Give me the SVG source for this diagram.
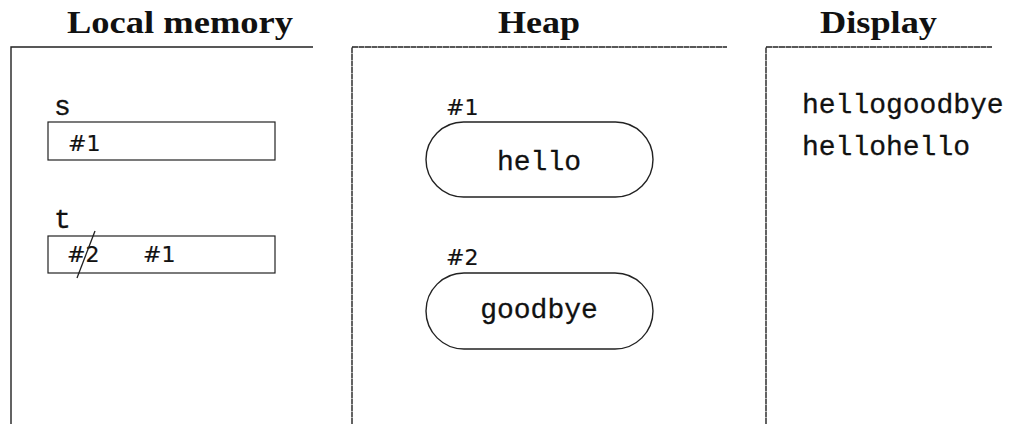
<svg xmlns="http://www.w3.org/2000/svg" width="1010" height="424" viewBox="0 0 1010 424">
  <style>
    .title { font-family: "Liberation Serif", serif; font-weight: bold; font-size: 31px; fill: #111; }
    .tt { font-family: "Liberation Mono", monospace; font-size: 28px; fill: #111; stroke: #111; stroke-width: 0.3; }
    .ref { font-family: "DejaVu Sans", sans-serif; font-size: 22px; fill: #111; stroke: #111; stroke-width: 0.2; }
    .frame { fill: none; stroke: #222; stroke-width: 1.4; }
    .dashed { stroke-dasharray: 6 0.5; }
    .cell { fill: #fff; stroke: #222; stroke-width: 1.2; }
    .obj { fill: #fff; stroke: #222; stroke-width: 1.4; }
  </style>

  <!-- column headings -->
  <g id="titles">
    <text class="title" x="67" y="33" textLength="226" lengthAdjust="spacingAndGlyphs">Local memory</text>
    <text class="title" x="498" y="33" textLength="82" lengthAdjust="spacingAndGlyphs">Heap</text>
    <text class="title" x="820" y="33" textLength="117" lengthAdjust="spacingAndGlyphs">Display</text>
  </g>

  <!-- column frames -->
  <g id="frames">
    <path class="frame" d="M11 424 V47 H313"/>
    <path class="frame dashed" d="M352 424 V47 H727"/>
    <path class="frame dashed" d="M766 424 V47 H992"/>
  </g>

  <!-- local variables -->
  <g id="var-s">
    <text class="tt" x="54" y="115">s</text>
    <rect class="cell" x="48" y="122" width="227" height="38"/>
    <text class="ref" x="68" y="151">#1</text>
  </g>
  <g id="var-t">
    <text class="tt" x="54" y="228">t</text>
    <rect class="cell" x="48" y="236" width="227" height="37"/>
    <text class="ref" x="67" y="262">#2</text>
    <line x1="95" y1="231" x2="77" y2="278" stroke="#222" stroke-width="1.3"/>
    <text class="ref" x="143" y="262">#1</text>
  </g>

  <!-- heap objects -->
  <g id="obj-1">
    <text class="ref" x="446" y="115">#1</text>
    <rect class="obj" x="426" y="122" width="227" height="75" rx="37.5" ry="37.5"/>
    <text class="tt" x="539" y="170" text-anchor="middle">hello</text>
  </g>
  <g id="obj-2">
    <text class="ref" x="446" y="265">#2</text>
    <rect class="obj" x="426" y="273" width="227" height="76" rx="38" ry="38"/>
    <text class="tt" x="539" y="318" text-anchor="middle">goodbye</text>
  </g>

  <!-- printed output -->
  <g id="display">
    <text class="tt" x="802" y="113">hellogoodbye</text>
    <text class="tt" x="802" y="155">hellohello</text>
  </g>

  <g id="connectors"></g>
</svg>
